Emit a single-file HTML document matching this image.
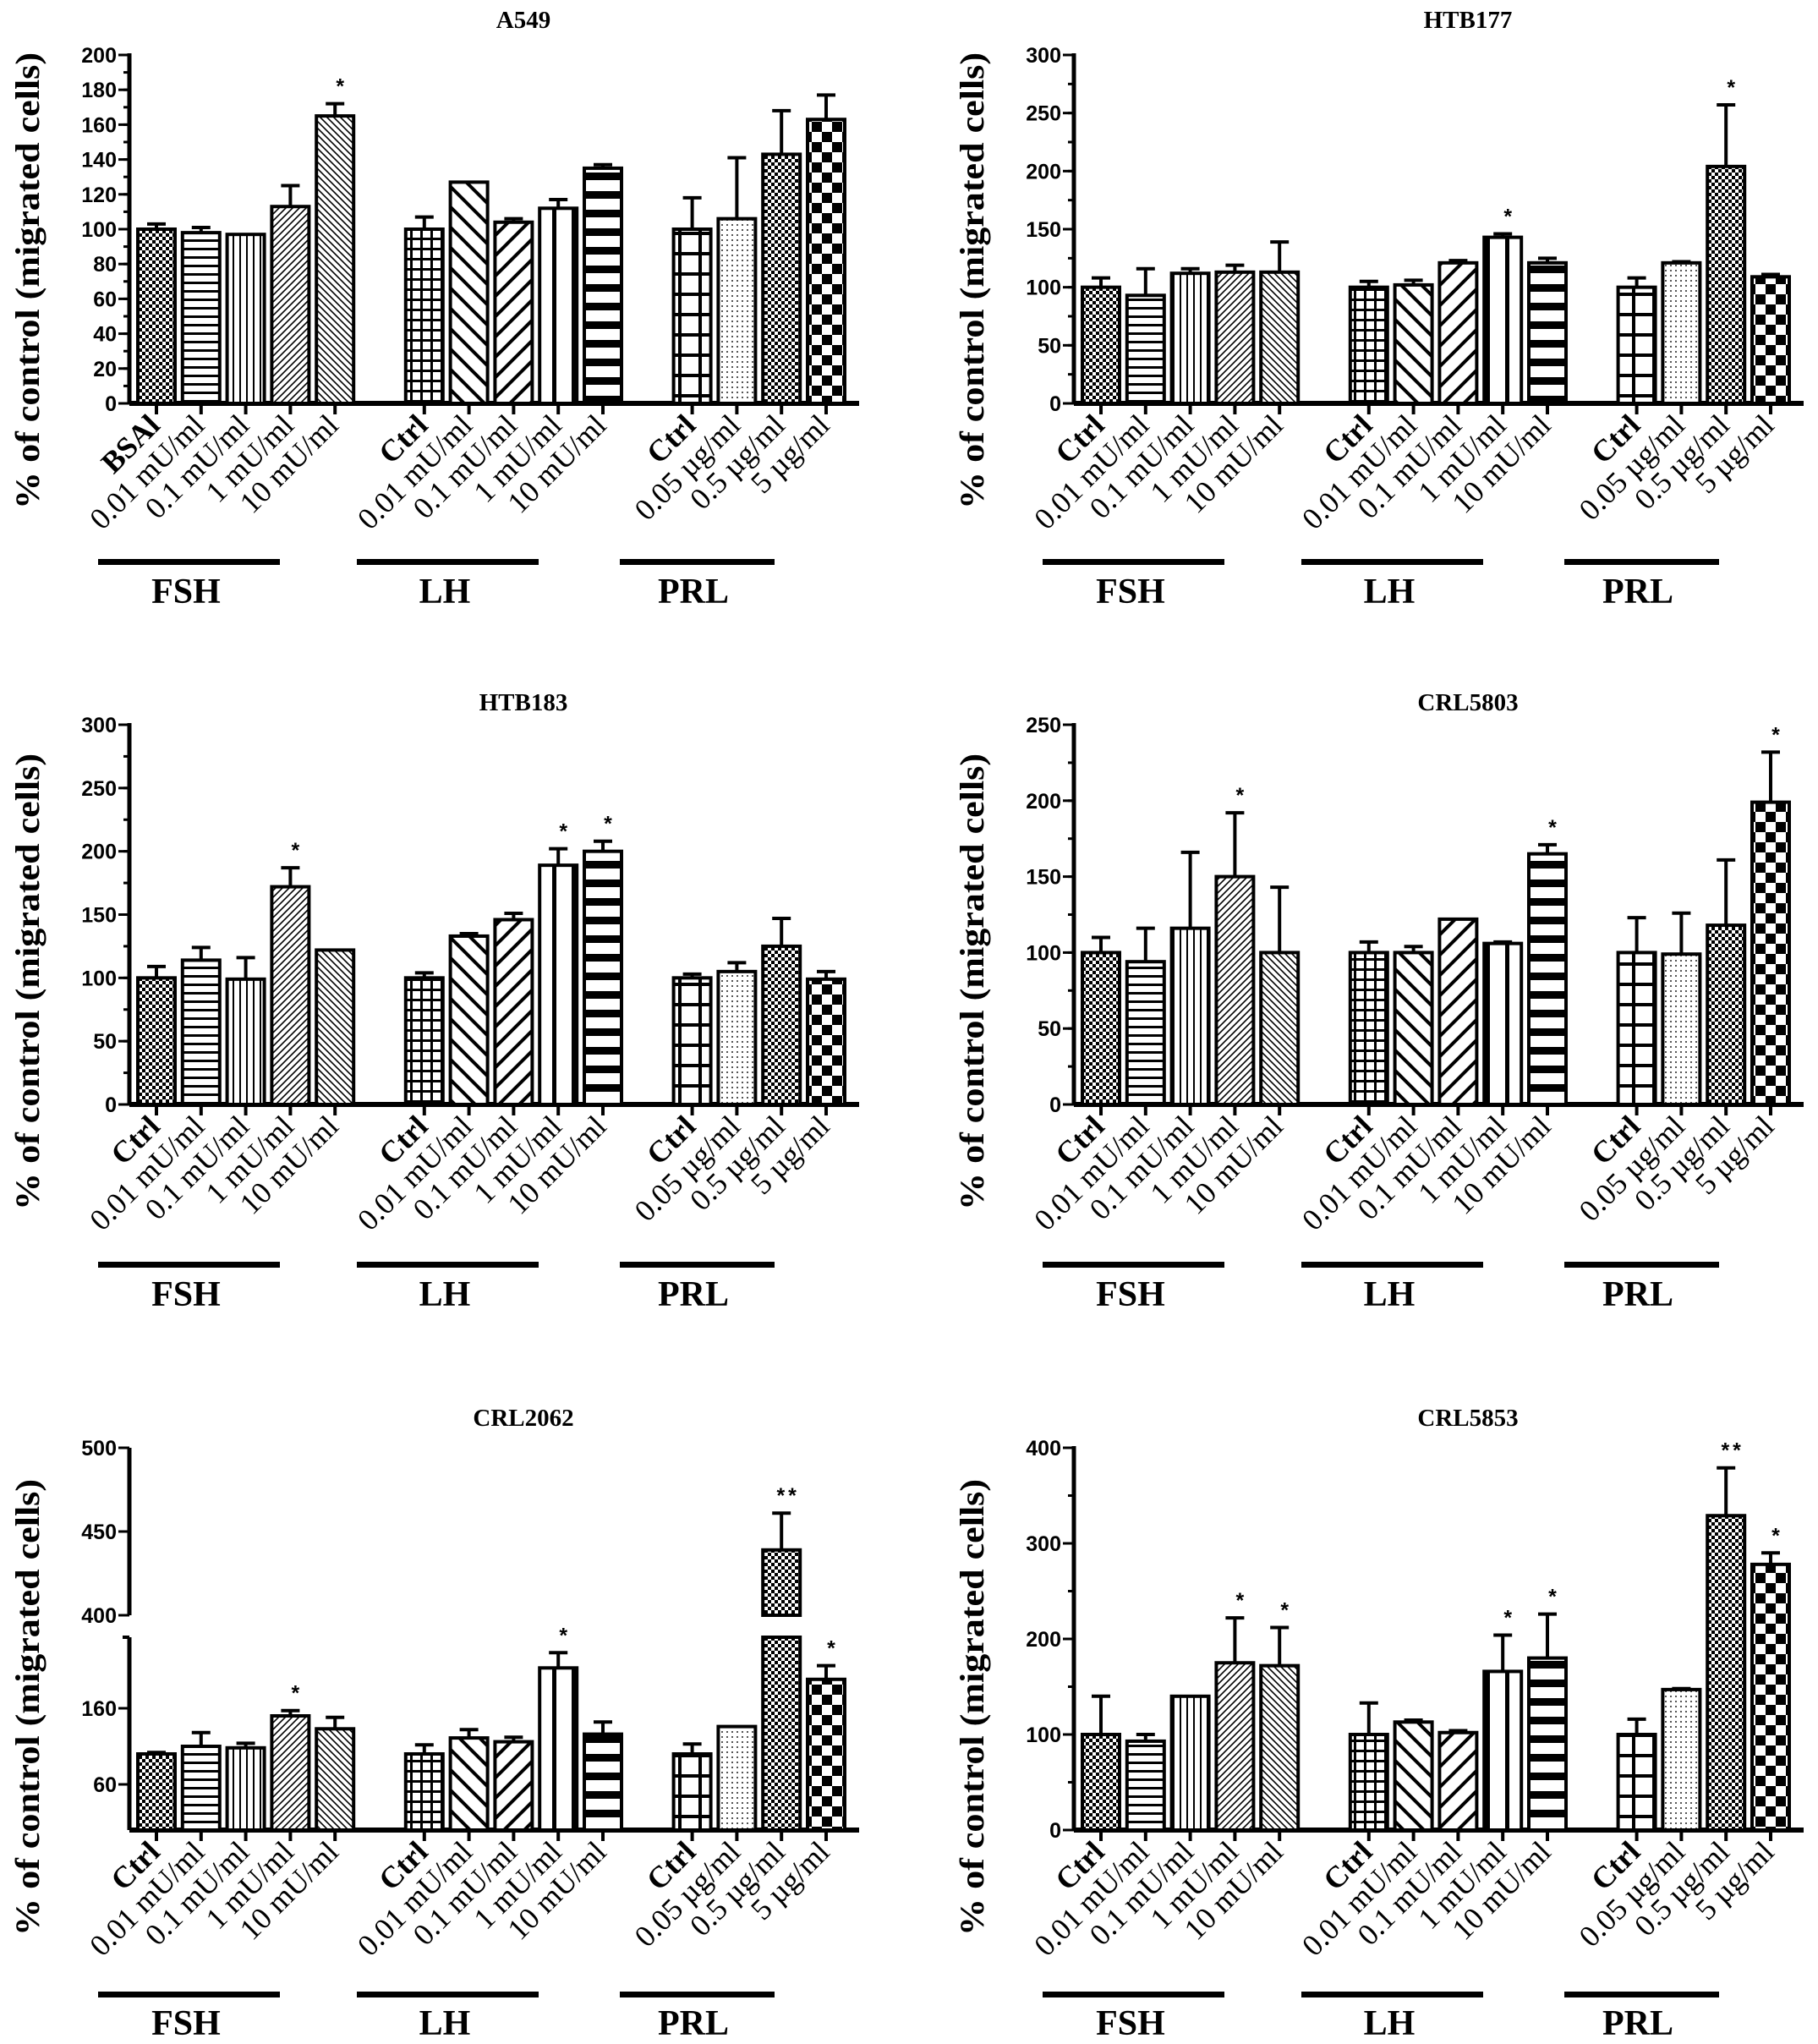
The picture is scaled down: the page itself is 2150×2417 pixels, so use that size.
<!DOCTYPE html>
<html><head><meta charset="utf-8"><style>
html,body{margin:0;padding:0;background:#fff;}
svg{display:block;}
.tk{font-family:"Liberation Sans",sans-serif;font-weight:bold;font-size:25px;}
.sf{font-family:"Liberation Serif",serif;}
</style></head><body>
<svg id="fig" xmlns="http://www.w3.org/2000/svg" width="2150" height="2417" viewBox="0 0 2150 2417">
<defs>
<pattern id="p0" patternUnits="userSpaceOnUse" width="8" height="8"><rect width="8" height="8" fill="#fff"/><rect width="4" height="4" fill="#000"/><rect x="4" y="4" width="4" height="4" fill="#000"/></pattern>
<pattern id="p1" patternUnits="userSpaceOnUse" width="10" height="10"><rect width="10" height="10" fill="#fff"/><rect y="3" width="10" height="3" fill="#000"/></pattern>
<pattern id="p2" patternUnits="userSpaceOnUse" width="8" height="8"><rect width="8" height="8" fill="#fff"/><rect x="3" width="2" height="8" fill="#000"/></pattern>
<pattern id="p3" patternUnits="userSpaceOnUse" width="8" height="8"><rect width="8" height="8" fill="#fff"/><path d="M0 8L8 0M-2 2L2 -2M6 10L10 6" stroke="#000" stroke-width="1.6"/></pattern>
<pattern id="p4" patternUnits="userSpaceOnUse" width="8" height="8"><rect width="8" height="8" fill="#fff"/><path d="M0 0L8 8M-2 6L2 10M6 -2L10 2" stroke="#000" stroke-width="1.6"/></pattern>
<pattern id="p5" patternUnits="userSpaceOnUse" width="12" height="12"><rect width="12" height="12" fill="#fff"/><rect x="5" width="3" height="12" fill="#000"/><rect y="5" width="12" height="3" fill="#000"/></pattern>
<pattern id="p6" patternUnits="userSpaceOnUse" width="24" height="24"><rect width="24" height="24" fill="#fff"/><path d="M0 0L24 24M-6 18L6 30M18 -6L30 6" stroke="#000" stroke-width="4"/></pattern>
<pattern id="p7" patternUnits="userSpaceOnUse" width="24" height="24"><rect width="24" height="24" fill="#fff"/><path d="M0 24L24 0M-6 6L6 -6M18 30L30 18" stroke="#000" stroke-width="4"/></pattern>
<pattern id="p8" patternUnits="userSpaceOnUse" width="23" height="23"><rect width="23" height="23" fill="#fff"/><rect x="9" width="5" height="23" fill="#000"/></pattern>
<pattern id="p9" patternUnits="userSpaceOnUse" width="22" height="22"><rect width="22" height="22" fill="#fff"/><rect y="6" width="22" height="9" fill="#000"/></pattern>
<pattern id="p10" patternUnits="userSpaceOnUse" width="24" height="24"><rect width="24" height="24" fill="#fff"/><rect x="10" width="4" height="24" fill="#000"/><rect y="10" width="24" height="4" fill="#000"/></pattern>
<pattern id="p11" patternUnits="userSpaceOnUse" width="6" height="6"><rect width="6" height="6" fill="#fff"/><rect x="1" y="1" width="2" height="2" fill="#555"/></pattern>
<pattern id="p12" patternUnits="userSpaceOnUse" width="8" height="8"><rect width="8" height="8" fill="#fff"/><rect width="4" height="4" fill="#000"/><rect x="4" y="4" width="4" height="4" fill="#000"/></pattern>
<pattern id="p13" patternUnits="userSpaceOnUse" width="24" height="24"><rect width="24" height="24" fill="#fff"/><rect width="12" height="12" fill="#000"/><rect x="12" y="12" width="12" height="12" fill="#000"/></pattern>
</defs>
</svg>
<script>
const labels = ["BSAl","0.01 mU/ml","0.1 mU/ml","1 mU/ml","10 mU/ml","Ctrl","0.01 mU/ml","0.1 mU/ml","1 mU/ml","10 mU/ml","Ctrl","0.05 µg/ml","0.5 µg/ml","5 µg/ml"];
const slots = [0,1,2,3,4,6,7,8,9,10,12,13,14,15];
const titles = ["A549","HTB177","HTB183","CRL5803","CRL2062","CRL5853"];
const valA549 = [100,98,97,113,165,100,127,104,112,135,100,106,143,163];
const errA549 = [3,3,0,12,7,7,0,2,5,2,18,35,25,14];
const starA549 = ["","","","","*","","","","","","","","",""];
const valHTB177 = [100,93,112,113,113,100,102,121,143,121,100,121,204,109];
const errHTB177 = [8,23,4,6,26,5,4,2,3,4,8,1,53,2];
const starHTB177 = ["","","","","","","","","*","","","","*",""];
const valHTB183 = [100,114,99,172,122,100,133,146,189,200,100,105,125,99];
const errHTB183 = [9,10,17,15,0,4,2,5,13,8,3,7,22,6];
const starHTB183 = ["","","","*","","","","","*","*","","","",""];
const valCRL5803 = [100,94,116,150,100,100,100,122,106,165,100,99,118,199];
const errCRL5803 = [10,22,50,42,43,7,4,0,1,6,23,27,43,33];
const starCRL5803 = ["","","","*","","","","","","*","","","","*"];
const valCRL2062 = [100,110,108,150,133,100,121,116,213,126,100,136,439,198];
const errCRL2062 = [2,18,6,7,15,12,11,6,20,16,13,0,22,18];
const starCRL2062 = ["","","","*","","","","","*","","","","**","*"];
const valCRL5853 = [100,93,140,175,172,100,113,102,166,180,100,147,329,278];
const errCRL5853 = [40,7,0,47,40,33,2,2,38,46,16,1,50,12];
const starCRL5853 = ["","","","*","*","","","","*","*","","","**","*"];
const ticks1 = [0,20,40,60,80,100,120,140,160,180,200];
const ticks2 = [0,50,100,150,200,250,300];
const ticks3 = [0,50,100,150,200,250];
const ticks4 = [0,100,200,300,400];
const ticksLow2062 = [60,160];
const ticksHigh2062 = [400,450,500];

const NS="http://www.w3.org/2000/svg";
const svg=document.getElementById('fig');
const fills=["p0","p1","p2","p3","p4","p5","p6","p7","p8","p9","p10","p11","p12","p13"];
function mk(tag,attrs,parent){const e=document.createElementNS(NS,tag);for(const k in attrs)e.setAttribute(k,attrs[k]);(parent||svg).appendChild(e);return e;}
const rows=[{top:65,zero:477,line:664,lab:713,title:33},{top:857,zero:1306,line:1495,lab:1544,title:840},{top:1712,zero:2164,line:2358,lab:2406,title:1686}];
const panels=[
 {t:0,v:valA549,e:errA549,s:starA549,max:200,ticks:ticks1,minor:10,row:0,col:0},
 {t:1,v:valHTB177,e:errHTB177,s:starHTB177,max:300,ticks:ticks2,minor:25,row:0,col:1},
 {t:2,v:valHTB183,e:errHTB183,s:starHTB183,max:300,ticks:ticks2,minor:25,row:1,col:0},
 {t:3,v:valCRL5803,e:errCRL5803,s:starCRL5803,max:250,ticks:ticks3,minor:25,row:1,col:1},
 {t:4,v:valCRL2062,e:errCRL2062,s:starCRL2062,broken:true,row:2,col:0},
 {t:5,v:valCRL5853,e:errCRL5853,s:starCRL5853,max:400,ticks:ticks4,minor:50,row:2,col:1}
];
const OFF=1117, AX=153, C0=185, SP=52.8, BW=44;
panels.forEach(function(p){
 const r=rows[p.row], ox=p.col*OFF;
 const g=mk('g',{});
 
 
 let y;
 if(p.broken){
  y=function(v){return v<=252? r.zero-0.9*v : 1910-(v-400)*1.98;};
 } else {
  y=function(v){return r.zero-(r.zero-r.top)*v/p.max;};
 }
 const tt=mk('text',{x:619+ox,y:r.title,'text-anchor':'middle','font-size':29,'font-weight':'bold',class:'sf'},g);
 tt.textContent=titles[p.t];
 
 
 const yl=mk('text',{x:0,y:0,'text-anchor':'middle','font-size':40,'font-weight':'bold',class:'sf',textLength:540,lengthAdjust:'spacingAndGlyphs',transform:'translate('+(46+ox)+','+(r.zero-145)+') rotate(-90)'},g);
 yl.textContent='% of control (migrated cells)';
 
 
 const ax=AX+ox;
 function ytick(v,len,lab){
  const yy=y(v);
  mk('line',{x1:ax-len,x2:ax,y1:yy,y2:yy,stroke:'#000','stroke-width':3},g);
  if(lab){const t=mk('text',{x:ax-15,y:yy+9,'text-anchor':'end',class:'tk'},g);t.textContent=v;
   
   }
 }
 if(p.broken){
  mk('line',{x1:ax,x2:ax,y1:r.zero,y2:1936,stroke:'#000','stroke-width':5},g);
  mk('line',{x1:ax,x2:ax,y1:1910,y2:1712,stroke:'#000','stroke-width':5},g);
  mk('line',{x1:ax-8,x2:ax,y1:1936,y2:1936,stroke:'#000','stroke-width':4},g);
  ticksLow2062.forEach(function(v){ytick(v,13,true);});
  ticksHigh2062.forEach(function(v){ytick(v,13,true);});
 } else {
  mk('line',{x1:ax,x2:ax,y1:r.zero,y2:r.top-2,stroke:'#000','stroke-width':5},g);
  for(let v=0;v<=p.max;v+=p.minor){ytick(v,7,false);}
  p.ticks.forEach(function(v){ytick(v,13,true);});
 }
 const xa=mk('line',{x1:ax,x2:1016+ox,y1:r.zero,y2:r.zero,stroke:'#000','stroke-width':6},g);
 
 
 p.v.forEach(function(v,i){
  const cx=C0+ox+slots[i]*SP, e=p.e[i];
  const bg=mk('g',{},g);
  
  
  const yt=y(v), ye=y(v+e);
  if(e>0){
   mk('line',{x1:cx,x2:cx,y1:yt,y2:ye,stroke:'#000','stroke-width':4},bg);
   mk('line',{x1:cx-11,x2:cx+11,y1:ye,y2:ye,stroke:'#000','stroke-width':4},bg);
  }
  if(p.broken && v>252){
   mk('rect',{x:cx-BW/2,y:1936,width:BW,height:r.zero-1936,fill:'url(#'+fills[i]+')',stroke:'#000','stroke-width':4},bg);
   mk('rect',{x:cx-BW/2,y:yt,width:BW,height:1910-yt,fill:'url(#'+fills[i]+')',stroke:'#000','stroke-width':4},bg);
  } else {
   mk('rect',{x:cx-BW/2,y:yt,width:BW,height:r.zero-yt,fill:'url(#'+fills[i]+')',stroke:'#000','stroke-width':4},bg);
  }
  if(p.s[i]){
   const st=mk('text',{x:cx+8,y:ye-12,'text-anchor':'middle','font-size':62,class:'tk','letter-spacing':'4'},bg);
   st.textContent=p.s[i];
   
   
  }
  mk('line',{x1:cx,x2:cx,y1:r.zero,y2:r.zero+13,stroke:'#000','stroke-width':4},g);
  const lab=(p.t===0||i>=5)?labels[i]:(i===0?"Ctrl":labels[i]);
  const bold=(lab==="Ctrl"||lab==="BSAl");
  const xl=mk('text',{x:0,y:0,'text-anchor':'end','font-size':36,'font-weight':bold?'bold':'normal',class:'sf',transform:'translate('+(cx+6)+','+(r.zero+28)+') rotate(-45)'},g);
  xl.textContent=lab;
  
  
 });
 const groups=[["FSH",116,331,220],["LH",422,637,526],["PRL",733,916,820]];
 groups.forEach(function(gr){
  const ln=mk('rect',{x:gr[1]+ox,y:r.line-3,width:gr[2]-gr[1],height:7,fill:'#000'},g);
  
  
  const t=mk('text',{x:gr[3]+ox,y:r.lab,'text-anchor':'middle','font-size':42,'font-weight':'bold',class:'sf'},g);
  t.textContent=gr[0];
  
  
 });
});
</script>
</body></html>
